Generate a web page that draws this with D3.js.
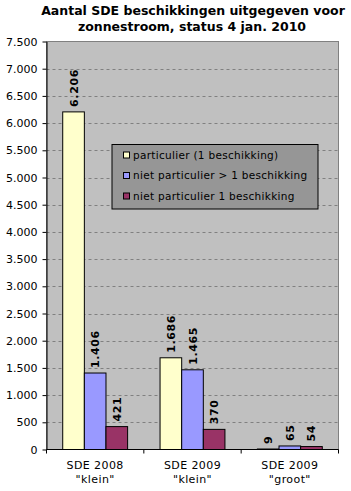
<!DOCTYPE html>
<html>
<head>
<meta charset="utf-8">
<script src="https://cdn.jsdelivr.net/npm/d3@7"></script>
<style>
  body { margin: 0; background: #fff; }
  text { font-family: "DejaVu Sans", Verdana, sans-serif; }
</style>
</head>
<body>
<svg id="chart"></svg>
<script>
// data
const categories = ['SDE 2008\n"klein"', 'SDE 2009\n"klein"', 'SDE 2009\n"groot"'];
const seriesNames = ["particulier (1 beschikking)", "niet particulier > 1 beschikking", "niet particulier 1 beschikking"];
const particulier = [6206, 1686, 9];
const nietPartMeer = [1406, 1465, 65];
const nietPartEen = [421, 370, 54];
const yTicks = [0, 500, 1000, 1500, 2000, 2500, 3000, 3500, 4000, 4500, 5000, 5500, 6000, 6500, 7000, 7500];

const seriesValues = [particulier, nietPartMeer, nietPartEen];
const colors = ["#FFFFCC", "#9999FF", "#993366"];

const w = 351, h = 491;
const pLeft = 46.5, pRight = 338.5, pTop = 41.5, pBottom = 449.5;

const fmt = v => d3.format(",")(v).replace(/,/g, ".");

const svg = d3.select("#chart").attr("width", w).attr("height", h);

// title
svg.append("text")
  .attr("x", 193).attr("y", 15)
  .attr("text-anchor", "middle")
  .attr("font-size", 12.5).attr("font-weight", "bold")
  .text("Aantal SDE beschikkingen uitgegeven voor");
svg.append("text")
  .attr("x", 192).attr("y", 31)
  .attr("text-anchor", "middle")
  .attr("font-size", 12.5).attr("font-weight", "bold")
  .text("zonnestroom, status 4 jan. 2010");

// scales
const x = d3.scaleBand().domain(d3.range(categories.length)).range([pLeft, pRight]);
const xInner = d3.scaleBand().domain(d3.range(seriesNames.length))
  .range([0, x.bandwidth()]).paddingOuter(0.75);
const y = d3.scaleLinear().domain([0, 7500]).range([pBottom, pTop]);

// plot area
svg.append("rect")
  .attr("x", pLeft).attr("y", pTop)
  .attr("width", pRight - pLeft).attr("height", pBottom - pTop)
  .attr("fill", "#C0C0C0").attr("stroke", "#808080");

// gridlines
svg.append("g")
  .selectAll("line")
  .data(yTicks.filter(t => t > 0 && t < 7500))
  .join("line")
  .attr("x1", pLeft).attr("x2", pRight)
  .attr("y1", d => Math.round(y(d)) + 0.5).attr("y2", d => Math.round(y(d)) + 0.5)
  .attr("stroke", "#808080")
  .attr("stroke-dasharray", "3,3");

// bars
const groups = svg.append("g")
  .selectAll("g")
  .data(seriesValues)
  .join("g")
  .attr("fill", (d, i) => colors[i]);

groups.selectAll("rect")
  .data((vals, si) => vals.map((v, ci) => ({ v, ci, si })))
  .join("rect")
  .attr("x", d => x(d.ci) + xInner(d.si))
  .attr("y", d => y(d.v))
  .attr("width", xInner.bandwidth())
  .attr("height", d => y(0) - y(d.v))
  .attr("stroke", "#000")
  .attr("stroke-width", 1);

// data labels
groups.selectAll("text")
  .data((vals, si) => vals.map((v, ci) => ({ v, ci, si })))
  .join("text")
  .attr("transform", d => {
    const cx = x(d.ci) + xInner(d.si) + xInner.bandwidth() / 2 + 4;
    return `translate(${cx},${y(d.v) - 5}) rotate(-90)`;
  })
  .attr("fill", "#000")
  .attr("font-size", 11).attr("font-weight", "bold")
  .attr("letter-spacing", 0.6)
  .text(d => fmt(d.v));

// y axis
const yAxis = d3.axisLeft(y).tickValues(yTicks).tickFormat(fmt).tickSize(4).tickSizeOuter(0);
const yG = svg.append("g")
  .attr("transform", `translate(${pLeft},0)`)
  .call(yAxis);
yG.selectAll("text").attr("font-size", 11).attr("font-family", "DejaVu Sans").attr("fill", "#000").attr("dx", -2);
yG.selectAll("line, path").attr("stroke", "#000");

// x axis
const xAxisG = svg.append("g").attr("transform", `translate(0,${pBottom})`);
xAxisG.append("line").attr("x1", pLeft).attr("x2", pRight).attr("stroke", "#000");
xAxisG.selectAll(".tk")
  .data(d3.range(categories.length + 1))
  .join("line")
  .attr("class", "tk")
  .attr("x1", i => i < categories.length ? x(i) : pRight)
  .attr("x2", i => i < categories.length ? x(i) : pRight)
  .attr("y1", 0).attr("y2", 4)
  .attr("stroke", "#000");
xAxisG.selectAll(".lbl")
  .data(categories)
  .join("text")
  .attr("class", "lbl")
  .attr("text-anchor", "middle")
  .attr("font-size", 11)
  .attr("letter-spacing", 0.4)
  .attr("transform", (d, i) => `translate(${x(i) + x.bandwidth() / 2},19)`)
  .selectAll("tspan")
  .data(d => d.split("\n"))
  .join("tspan")
  .attr("x", 0)
  .attr("dy", (d, i) => i === 0 ? 0 : 14)
  .text(d => d);

// legend
const lg = svg.append("g").attr("transform", "translate(112,144.5)");
lg.append("rect")
  .attr("width", 206).attr("height", 64.5)
  .attr("fill", "#969696").attr("stroke", "#000");
const items = lg.selectAll(".item")
  .data(seriesNames)
  .join("g")
  .attr("class", "item")
  .attr("transform", (d, i) => `translate(11,${14 + i * 20.5})`);
items.append("rect")
  .attr("x", 0.5).attr("y", -6.5)
  .attr("width", 6).attr("height", 6)
  .attr("fill", (d, i) => colors[i]).attr("stroke", "#000");
items.append("text")
  .attr("x", 10).attr("y", 0)
  .attr("font-size", 10.5)
  .attr("letter-spacing", 0.3)
  .text(d => d);
</script>
</body>
</html>
